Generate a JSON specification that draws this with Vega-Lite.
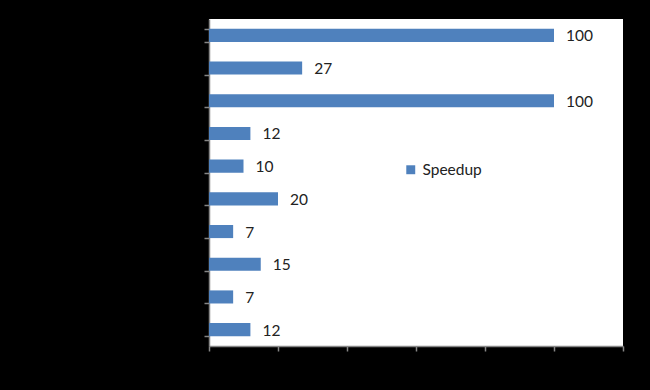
{
  "$schema": "https://vega.github.io/schema/vega-lite/v6.json",
  "autosize": "none",
  "width": 414,
  "height": 327,
  "padding": {"left": 209, "top": 19, "right": 27, "bottom": 44},
  "background": "black",
  "view": {"fill": "white", "stroke": null},
  "data": {
    "values": [
      {"item": "1", "speedup": 100, "series": "Speedup"},
      {"item": "2", "speedup": 27, "series": "Speedup"},
      {"item": "3", "speedup": 100, "series": "Speedup"},
      {"item": "4", "speedup": 12, "series": "Speedup"},
      {"item": "5", "speedup": 10, "series": "Speedup"},
      {"item": "6", "speedup": 20, "series": "Speedup"},
      {"item": "7", "speedup": 7, "series": "Speedup"},
      {"item": "8", "speedup": 15, "series": "Speedup"},
      {"item": "9", "speedup": 7, "series": "Speedup"},
      {"item": "10", "speedup": 12, "series": "Speedup"}
    ]
  },
  "encoding": {
    "y": {
      "field": "item", "type": "nominal", "sort": null,
      "scale": {"paddingInner": 0.6, "paddingOuter": 0.3},
      "axis": {"title": null, "labels": false, "tickBand": "extent", "domainColor": "#868686", "tickColor": "#868686", "tickSize": 5, "domainWidth": 1.5, "tickWidth": 1.5}
    },
    "x": {
      "field": "speedup", "type": "quantitative",
      "scale": {"domain": [0, 120], "nice": false},
      "axis": {"title": null, "labels": false, "grid": false, "values": [0, 20, 40, 60, 80, 100, 120], "domainColor": "#868686", "tickColor": "#868686", "tickSize": 5, "domainWidth": 1.5, "tickWidth": 1.5}
    }
  },
  "layer": [
    {
      "mark": {"type": "bar"},
      "encoding": {
        "color": {
          "field": "series", "type": "nominal",
          "scale": {"range": ["#4f81bd"]},
          "legend": {"title": null, "orient": "none", "legendX": 194, "legendY": 143, "symbolType": "square", "symbolSize": 80, "labelFont": "Lato", "labelFontSize": 15.5, "labelColor": "#222", "symbolStrokeWidth": 0}
        }
      }
    },
    {
      "mark": {"type": "text", "align": "left", "dx": 12, "dy": 1, "font": "Lato", "fontSize": 15.5, "color": "#222"},
      "encoding": {"text": {"field": "speedup", "type": "quantitative"}}
    }
  ]
}
